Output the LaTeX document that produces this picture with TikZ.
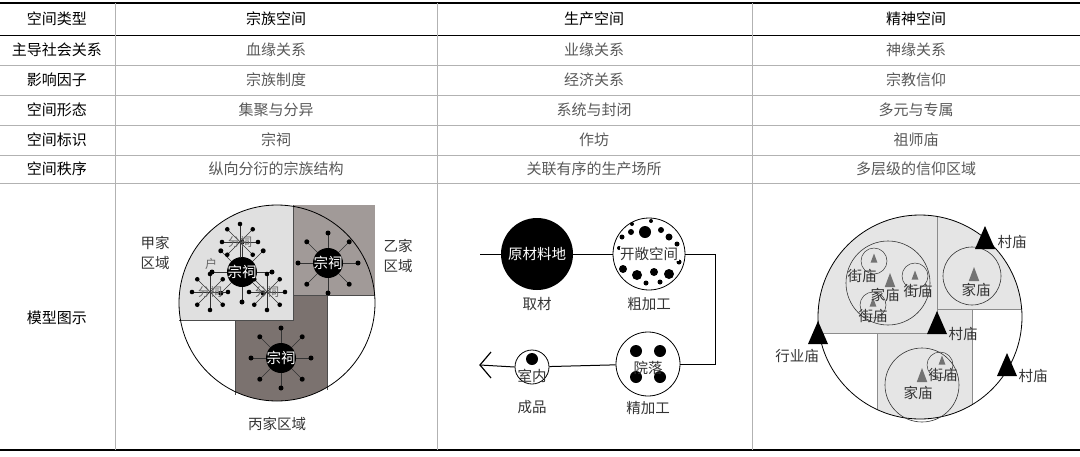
\documentclass[tikz,border=0pt]{standalone}
\usepackage{fontspec}
\setmainfont{Noto Sans CJK SC}
\definecolor{yiC}{HTML}{A19A98}
\definecolor{bingC}{HTML}{7B726F}
\begin{document}
\begin{tikzpicture}[x=1pt,y=-1pt,
  hd/.style={font=\fontsize{15}{17}\selectfont,text=black},
  cell/.style={font=\fontsize{15}{17}\selectfont,text=black!65},
  lbl/.style={font=\fontsize{14.5}{16}\selectfont,text=black!80},
  sm/.style={font=\fontsize{12}{13}\selectfont,text=black!60},
  wl/.style={font=\fontsize{14.5}{16}\selectfont,text=white},
  gtri/.style={fill=black!55},
  grid/.style={draw=black!30,line width=0.6pt}]
\useasboundingbox (0,0) rectangle (1080,456);
% table lines
\draw[line width=1.2pt] (0,3) -- (1080,3);
\draw[line width=1.2pt] (0,450) -- (1080,450);
\draw[line width=0.8pt] (0,35) -- (1080,35);
\foreach \y in {65,95,125,155,183} \draw[grid] (0,\y) -- (1080,\y);
\foreach \x in {115,437,752} \draw[grid] (\x,3) -- (\x,450);
% headers
\node[hd] (h0) at (57,19) {空间类型};
\node[hd] (h1) at (276,19) {宗族空间};
\node[hd] (h2) at (594,19) {生产空间};
\node[hd] (h3) at (916,19) {精神空间};
\node[hd] (r1) at (57,50) {主导社会关系};
\node[hd] (r2) at (57,80) {影响因子};
\node[hd] (r3) at (57,110) {空间形态};
\node[hd] (r4) at (57,140) {空间标识};
\node[hd] (r5) at (57,169) {空间秩序};
\node[hd] (r6) at (57,318) {模型图示};
\node[cell] (a1) at (276,50) {血缘关系};
\node[cell] (b1) at (594,50) {业缘关系};
\node[cell] (c1) at (916,50) {神缘关系};
\node[cell] (a2) at (276,80) {宗族制度};
\node[cell] (b2) at (594,80) {经济关系};
\node[cell] (c2) at (916,80) {宗教信仰};
\node[cell] (a3) at (276,110) {集聚与分异};
\node[cell] (b3) at (594,110) {系统与封闭};
\node[cell] (c3) at (916,110) {多元与专属};
\node[cell] (a4) at (276,140) {宗祠};
\node[cell] (b4) at (594,140) {作坊};
\node[cell] (c4) at (916,140) {祖师庙};
\node[cell] (a5) at (276,169) {纵向分衍的宗族结构};
\node[cell] (b5) at (594,169) {关联有序的生产场所};
\node[cell] (c5) at (916,169) {多层级的信仰区域};
% ---------- panel 1
\fill[yiC] (293,205) rectangle (375,295);
\begin{scope}
\clip (277,303) circle[radius=98pt];
\fill[black!12] (170,200) rectangle (293,320);
\fill[bingC] (235,320) -- (293,320) -- (293,295) -- (327,295) -- (327,410) -- (235,410) -- cycle;
\end{scope}
\draw[black!70,line width=0.6pt] (179,320) -- (293,320) -- (293,205);
\draw[black!70,line width=0.6pt] (293,295) -- (375,295);
\draw[black!70,line width=0.6pt] (235,320) -- (235,395);
\draw[black!70,line width=0.6pt] (327,295) -- (327,390);
\draw[line width=0.8pt] (277,303) circle[radius=98pt];
\foreach \cx/\cy in {242/272,328/263,281/358}{
  \foreach \a in {0,45,...,315}{
    \draw[black!80,line width=0.6pt] (\cx,\cy) -- ++(\a:30pt);
    \fill (\cx,\cy) ++(\a:30pt) circle[radius=2.5pt];}
  \fill (\cx,\cy) circle[radius=15pt];}
\foreach \cx/\cy in {240/242,210/292,267/292}{
  \foreach \a in {0,45,...,315}{
    \draw[black!80,line width=0.5pt] (\cx,\cy) -- ++(\a:18pt);
    \fill (\cx,\cy) ++(\a:18pt) circle[radius=2.3pt];}
  \node[sm] at (\cx,\cy) {分祠};}
\node[wl] (z1) at (242,272) {宗祠};
\node[wl] (z2) at (328,263) {宗祠};
\node[wl] (z3) at (281,358) {宗祠};
\node[sm] (hu) at (211,264) {户};
\node[lbl] (jia1) at (155,243) {甲家};
\node[lbl] (jia2) at (155,263) {区域};
\node[lbl] (yi1) at (398,246) {乙家};
\node[lbl] (yi2) at (398,266) {区域};
\node[lbl] (bing) at (277,424) {丙家区域};
% ---------- panel 2
\node[circle,fill=black,minimum size=72pt,inner sep=0pt] (raw) at (537,254) {};
\node[circle,draw,line width=0.8pt,fill=white,minimum size=72pt,inner sep=0pt] (open) at (649,254) {};
\node[circle,draw,line width=0.8pt,fill=white,minimum size=64pt,inner sep=0pt] (yard) at (648,364) {};
\node[circle,draw,line width=0.8pt,fill=white,minimum size=34pt,inner sep=0pt] (room) at (532,367) {};
\coordinate (start) at (480,254);
\coordinate (end) at (480,365);
\coordinate (c1) at (715,254);
\coordinate (c2) at (715,364);
\draw[line width=1pt] (start) -- (raw);
\draw[line width=1pt] (raw) -- (open);
\draw[line width=1pt] (open) -- (c1) -- (c2) -- (yard);
\draw[line width=1pt] (yard) -- (room);
\draw[line width=1pt] (room.west) -- (end);
\draw[line width=1.2pt] (491,352) -- (480,365) -- (491,378);
\foreach \dx/\dy/\r in {-4/-22/6,-18/-22/3,-27/-17/2.5,12/-24/3,20/-17/3.5,28/-10/2.5,-30/-6/2,-26/15/4,-12/21/5,5/18/4,20/20/5,-3/29/2.5,11/28/2.5,30/8/2.5,-17/-30/2,2/-33/2}
  \fill (649+\dx,254+\dy) circle[radius=\r pt];
\foreach \dx/\dy in {-12/-13,12/-13,-12/13,12/13}
  \fill (648+\dx,364+\dy) circle[radius=6pt];
\fill (532,359) circle[radius=6pt];
\node[wl] at (raw) {原材料地};
\node[lbl,fill=white,inner sep=0.5pt] at (649,254) {开敞空间};
\node[lbl] at (648,368) {院落};
\node[lbl] at (532,376) {室内};
\node[lbl] (l1) at (537,304) {取材};
\node[lbl] (l2) at (649,304) {粗加工};
\node[lbl] (l3) at (648,408) {精加工};
\node[lbl] (l4) at (532,407) {成品};
% ---------- panel 3
\begin{scope}
\clip (920,317) circle[radius=102pt];
\fill[black!10] (810,210) rectangle (937,333);
\fill[black!10] (937,210) rectangle (1025,309);
\fill[black!10] (877,333) -- (937,333) -- (937,309) -- (972,309) -- (972,425) -- (877,425) -- cycle;
\draw[black!45,line width=0.6pt] (810,333) -- (937,333) -- (937,210);
\draw[black!45,line width=0.6pt] (937,309) -- (1025,309);
\draw[black!45,line width=0.6pt] (877,333) -- (877,425);
\draw[black!45,line width=0.6pt] (972,309) -- (972,425);
\end{scope}
\draw[line width=0.8pt] (920,317) circle[radius=102pt];
\draw[black!80,line width=0.6pt] (888,283) circle[radius=42pt];
\draw[black!80,line width=0.5pt] (874,261) circle[radius=13pt];
\draw[black!80,line width=0.5pt] (915,276) circle[radius=13pt];
\draw[black!80,line width=0.5pt] (873,305) circle[radius=13pt];
\draw[black!80,line width=0.6pt] (972,276) circle[radius=29pt];
\draw[black!80,line width=0.6pt] (922,385) circle[radius=37pt];
\draw[black!80,line width=0.5pt] (940,365) circle[radius=13pt];
\foreach \x/\y/\s in {874/258/4.5,890/280/7,915/275/4.5,873/302/4.5,974/274/7,922/375/7,942/360/4.5}
  \fill[gtri] (\x,\y-\s) -- (\x+0.75*\s,\y+\s) -- (\x-0.75*\s,\y+\s) -- cycle;
\foreach \x/\y in {985/238,937/323,818/333,1007/365}
  \fill (\x,\y-12) -- (\x+10,\y+11) -- (\x-10,\y+11) -- cycle;
\node[lbl] at (862,276) {街庙};
\node[lbl] at (885,295) {家庙};
\node[lbl] at (918,291) {街庙};
\node[lbl] at (873,316) {街庙};
\node[lbl] at (976,290) {家庙};
\node[lbl] at (918,393) {家庙};
\node[lbl] at (943,375) {街庙};
\node[lbl] (m1) at (1012,242) {村庙};
\node[lbl] (m2) at (963,334) {村庙};
\node[lbl] (m3) at (797,356) {行业庙};
\node[lbl] (m4) at (1033,376) {村庙};
\end{tikzpicture}
\end{document}
